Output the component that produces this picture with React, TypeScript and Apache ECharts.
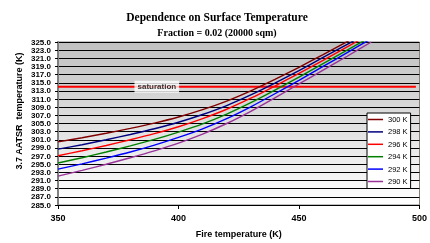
import React, { useEffect, useRef } from "react";
import * as echarts from "echarts";

const fireTemps = [350, 360, 370, 380, 390, 400, 410, 420, 430, 440, 450, 460, 470, 480];
const surfaceLabels = ["300 K", "298 K", "296 K", "294 K", "292 K", "290 K"];
const s300 = [300.5, 301.5, 302.6, 303.8, 305.1, 306.6, 308.4, 310.5, 313.0, 315.8, 318.8, 321.9, 325.1, 328.4];
const s298 = [298.7, 299.8, 301.0, 302.3, 303.7, 305.3, 307.2, 309.4, 312.0, 314.9, 318.0, 321.2, 324.4, 327.7];
const s296 = [297.1, 298.3, 299.6, 301.0, 302.5, 304.2, 306.2, 308.5, 311.2, 314.2, 317.3, 320.5, 323.8, 327.1];
const s294 = [295.3, 296.6, 298.0, 299.5, 301.1, 302.9, 304.9, 307.3, 310.1, 313.2, 316.4, 319.7, 323.0, 326.3];
const s292 = [293.8, 295.1, 296.5, 298.0, 299.7, 301.6, 303.7, 306.2, 309.1, 312.3, 315.6, 319.0, 322.4, 325.8];
const s290 = [292.1, 293.5, 295.0, 296.6, 298.3, 300.2, 302.4, 305.0, 308.0, 311.3, 314.7, 318.1, 321.5, 325.0];
const seriesValues = [s300, s298, s296, s294, s292, s290];
const seriesColors = ["#800000", "#000080", "#ff0000", "#008000", "#0000ff", "#993399"];
const saturationX = [350, 498.5];
const saturationValue = 314;
const saturationLabelX = 391;

const SANS = "'Liberation Sans', Arial, sans-serif";
const SERIF = "'Liberation Serif', 'Times New Roman', serif";

export default function App() {
  const ref = useRef<HTMLDivElement>(null);
  useEffect(() => {
    if (!ref.current) return;
    const chart = echarts.init(ref.current, null, { renderer: "svg" });
    const lineSeries = seriesValues.map((vals, i) => ({
      name: surfaceLabels[i],
      type: "line",
      data: fireTemps.map((t, j) => [t, vals[j]]),
      showSymbol: false,
      symbol: "none",
      smooth: 0.2,
      clip: true,
      lineStyle: { color: seriesColors[i], width: 1.4 },
      itemStyle: { color: seriesColors[i] },
      z: 3,
    }));
    chart.setOption({
      animation: false,
      grid: {
        left: 58,
        right: 10,
        top: 42,
        bottom: 32,
        show: true,
        borderColor: "#808080",
        borderWidth: 1,
        backgroundColor: new echarts.graphic.LinearGradient(0, 0, 0, 1, [
          { offset: 0, color: "#c0c0c0" },
          { offset: 1, color: "#ffffff" },
        ]),
      },
      xAxis: {
        type: "value",
        min: 350,
        max: 500,
        interval: 50,
        name: "Fire temperature (K)",
        nameLocation: "middle",
        nameGap: 24,
        nameTextStyle: { fontFamily: SANS, fontWeight: "bold", fontSize: 9, color: "#000" },
        axisLine: { show: true, onZero: false, lineStyle: { color: "#000", width: 1 } },
        axisTick: { show: true, length: 4, lineStyle: { color: "#000" } },
        axisLabel: {
          fontFamily: SANS,
          fontWeight: "bold",
          fontSize: 9,
          color: "#000",
          margin: 8,
          showMinLabel: true,
          showMaxLabel: true,
        },
        splitLine: { show: false },
      },
      yAxis: {
        type: "value",
        min: 285,
        max: 325,
        interval: 2,
        axisLine: { show: true, onZero: false, lineStyle: { color: "#808080", width: 2 } },
        axisTick: { show: true, length: 3, lineStyle: { color: "#000" } },
        axisLabel: {
          fontFamily: SANS,
          fontWeight: "bold",
          fontSize: 8,
          lineHeight: 8,
          color: "#000",
          margin: 7,
          showMinLabel: true,
          showMaxLabel: true,
          hideOverlap: false,
          formatter: (v: number) => v.toFixed(1),
        },
        splitLine: { show: true, lineStyle: { color: "#000", width: 1 } },
      },
      legend: {
        orient: "vertical",
        left: 367,
        top: 113,
        data: surfaceLabels,
        icon: "rect",
        itemWidth: 15,
        itemHeight: 1.5,
        itemGap: 3.4,
        padding: [2, 3, 2.5, 1],
        backgroundColor: "#ffffff",
        borderColor: "#000",
        borderWidth: 1,
        borderRadius: 0,
        textStyle: { fontFamily: SANS, fontSize: 7.5, lineHeight: 9, color: "#000" },
      },
      graphic: [
        {
          type: "text",
          x: 217,
          y: 17,
          style: {
            text: "Dependence on Surface Temperature",
            font: `bold 11.5px ${SERIF}`,
            fill: "#000",
            textAlign: "center",
            textVerticalAlign: "middle",
          },
        },
        {
          type: "text",
          x: 217,
          y: 32,
          style: {
            text: "Fraction = 0.02 (20000 sqm)",
            font: `bold 10px ${SERIF}`,
            fill: "#000",
            textAlign: "center",
            textVerticalAlign: "middle",
          },
        },
        {
          type: "text",
          x: 19,
          y: 111,
          rotation: Math.PI / 2,
          style: {
            text: "3.7 AATSR  temperature (K)",
            font: `bold 9px ${SANS}`,
            fill: "#000",
            textAlign: "center",
            textVerticalAlign: "middle",
          },
        },
      ],
      series: [
        {
          name: "saturation",
          type: "line",
          data: saturationX.map((t) => [t, saturationValue]),
          showSymbol: false,
          symbol: "none",
          lineStyle: { color: "#ff0000", width: 2 },
          z: 2,
        },
        {
          name: "saturationLabel",
          type: "scatter",
          data: [[saturationLabelX, saturationValue]],
          symbolSize: 0,
          z: 5,
          label: {
            show: true,
            position: "inside",
            formatter: "saturation",
            fontFamily: SANS,
            fontWeight: "bold",
            fontSize: 8,
            color: "#000",
            backgroundColor: "#ffffff",
            padding: [2, 3],
          },
        },
        ...lineSeries,
      ],
    });
    return () => chart.dispose();
  }, []);
  return <div ref={ref} style={{ position: "fixed", left: 0, top: 0, width: 430, height: 243 }} />;
}
